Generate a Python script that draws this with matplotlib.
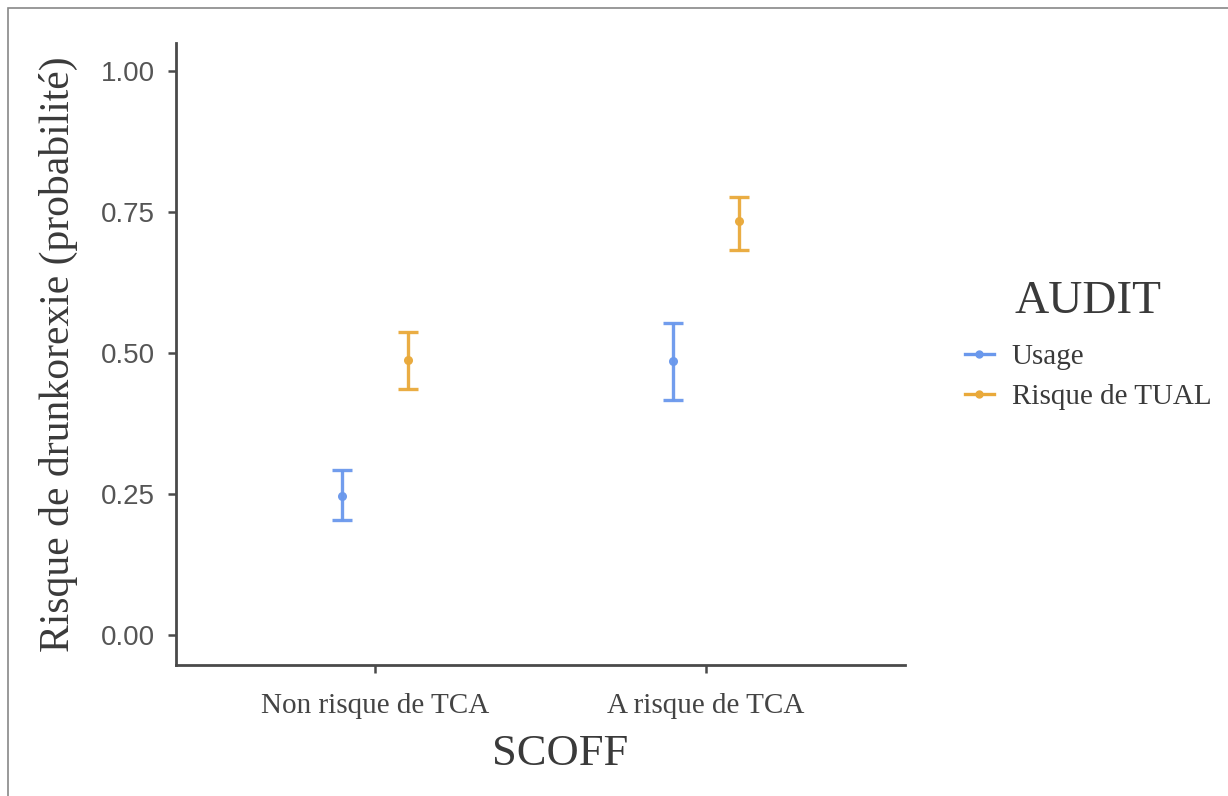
import matplotlib.pyplot as plt
import matplotlib.patches as mpatches
from matplotlib.lines import Line2D
import numpy as np

# data
scoff = ["Non risque de TCA", "A risque de TCA"]
audit = ["Usage", "Risque de TUAL"]
colors = ["#6A98EC", "#E9A93A"]

prob = {
    "Usage": [0.247, 0.486],
    "Risque de TUAL": [0.488, 0.734],
}
ci_low = {
    "Usage": [0.204, 0.417],
    "Risque de TUAL": [0.436, 0.683],
}
ci_high = {
    "Usage": [0.293, 0.553],
    "Risque de TUAL": [0.537, 0.777],
}

serif = "Liberation Serif"
sans = "Liberation Sans"
spine_col = "#4a4a4a"
text_col = "#3a3a3a"

fig = plt.figure(figsize=(12.28, 7.96), dpi=100)
ax = fig.add_axes([176 / 1228, 1 - 665 / 796, (905 - 176) / 1228, (665 - 43) / 796])

x = np.arange(1, len(scoff) + 1)
dodge = 0.1
for i, (name, col) in enumerate(zip(audit, colors)):
    y = np.array(prob[name])
    lo = y - np.array(ci_low[name])
    hi = np.array(ci_high[name]) - y
    ax.errorbar(
        x + (i - 0.5) * 2 * dodge, y, yerr=[lo, hi], fmt="o", color=col,
        ms=5.5, elinewidth=2.4, capsize=7, capthick=2.4, alpha=0.95,
    )

ax.set_xlim(0.4, 2.6)
ax.set_ylim(-0.053, 1.05)
ax.set_xticks(x)
ax.set_xticklabels(scoff, fontfamily=serif, fontsize=21, color="#444444")
ax.set_yticks([0, 0.25, 0.5, 0.75, 1.0])
ax.set_yticklabels(["0.00", "0.25", "0.50", "0.75", "1.00"], fontfamily=sans,
                   fontsize=20, color="#555555")

for s in ["top", "right"]:
    ax.spines[s].set_visible(False)
for s in ["left", "bottom"]:
    ax.spines[s].set_color(spine_col)
    ax.spines[s].set_linewidth(2.0)
ax.tick_params(axis="both", length=6, width=1.8, color=spine_col)
ax.tick_params(axis="x", pad=14)
ax.tick_params(axis="y", pad=9)

ax.set_xlabel("SCOFF", fontfamily=serif, fontsize=32, color=text_col)
ax.xaxis.set_label_coords((560 - 176) / 729, -0.111)
ax.set_ylabel("Risque de drunkorexie (probabilité)", fontfamily=serif,
              fontsize=30, color=text_col)
ax.yaxis.set_label_coords(-0.134, 0.5)

# legend, with the title as its own text so the gap matches
fig.text(1088 / 1228, 1 - 302 / 796, "AUDIT", ha="center", va="center",
         fontfamily=serif, fontsize=34, color=text_col)
handles = [
    Line2D([], [], color=c, marker="o", ms=5, lw=2.4) for c in colors
]
leg = fig.legend(
    handles, audit, loc="center left",
    bbox_to_anchor=(959 / 1228, 1 - 377 / 796), frameon=False,
    prop={"family": serif, "size": 21}, handlelength=1.0, handletextpad=0.6,
    labelspacing=0.45, borderaxespad=0, borderpad=0.2,
)
for t in leg.get_texts():
    t.set_color(text_col)

# outer gray frame
fig.patches.append(mpatches.Rectangle(
    (8 / 1228, -0.1), 1.2, 1 - 8 / 796 + 0.1, transform=fig.transFigure,
    fill=False, edgecolor="#888888", lw=1.2,
))

fig.savefig("out.png", dpi=100)
